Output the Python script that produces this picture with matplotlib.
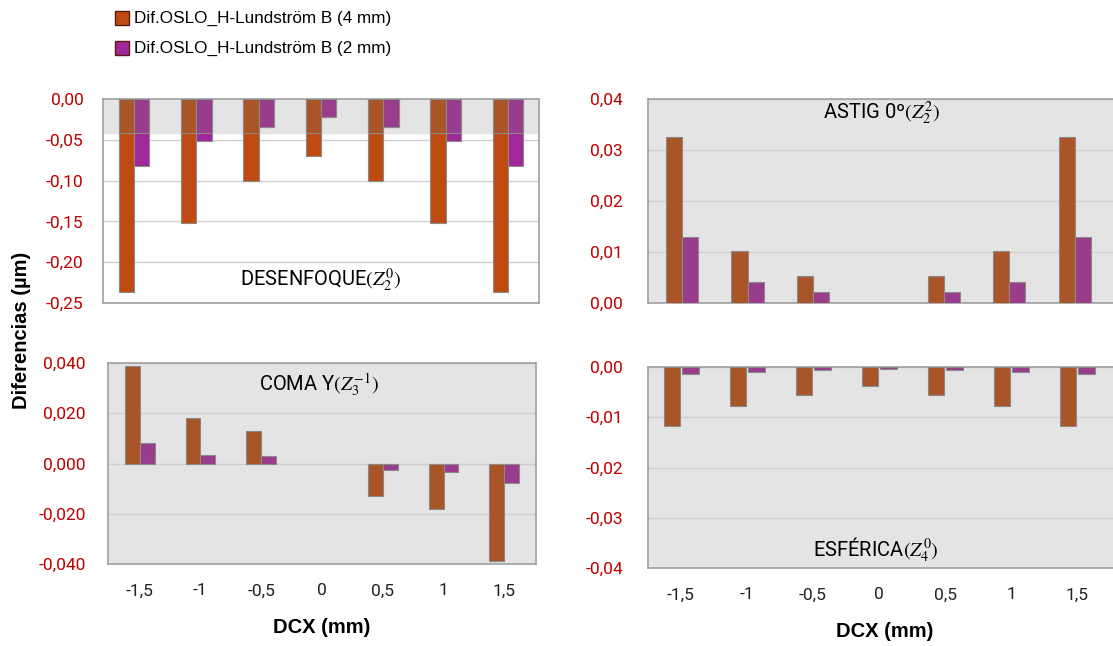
import numpy as np
import matplotlib.pyplot as plt
from matplotlib.ticker import FuncFormatter

plt.rcParams['font.family'] = ['Roboto', 'DejaVu Sans']
plt.rcParams['mathtext.fontset'] = 'stix'

dcx = ['-1,5', '-1', '-0,5', '0', '0,5', '1', '1,5']
series = ['Dif.OSLO_H-Lundström B (4 mm)', 'Dif.OSLO_H-Lundström B (2 mm)']

desenfoque_4 = [-0.236, -0.152, -0.101, -0.070, -0.101, -0.152, -0.236]
desenfoque_2 = [-0.082, -0.052, -0.034, -0.022, -0.034, -0.052, -0.082]
astig_4 = [0.0325, 0.0102, 0.0053, 0.0, 0.0053, 0.0102, 0.0325]
astig_2 = [0.0129, 0.0041, 0.0021, 0.0, 0.0021, 0.0041, 0.0129]
coma_4 = [0.039, 0.018, 0.013, 0.0, -0.013, -0.018, -0.039]
coma_2 = [0.008, 0.0035, 0.0028, 0.0, -0.0025, -0.0035, -0.0077]
esf_4 = [-0.0117, -0.0078, -0.0055, -0.0038, -0.0055, -0.0078, -0.0117]
esf_2 = [-0.0013, -0.0009, -0.0006, -0.0004, -0.0006, -0.0009, -0.0013]

orange, purple = '#C04B12', '#A0289A'
orange_m, purple_m = '#AA5528', '#9A3C8C'
red = '#C00000'
bg = '#E4E4E4'
W = 1113
H = 646

fig = plt.figure(figsize=(W / 100, H / 100), dpi=100)


def add_ax(l, r, t, b):
    return fig.add_axes([l / W, 1 - b / H, (r - l) / W, (b - t) / H])


def fmt_tick(fmt):
    def f(v, p):
        if abs(v) < 1e-9:
            v = 0.0
        return (fmt % v).replace('.', ',')
    return FuncFormatter(f)


def style(ax, ylim, step, fmt, xlim, facecolor, pad, xticks=False):
    ax.set_facecolor(facecolor)
    ax.set_ylim(*ylim)
    ax.set_xlim(*xlim)
    ax.set_yticks(np.arange(ylim[0], ylim[1] + step / 2, step))
    ax.yaxis.set_major_formatter(fmt_tick(fmt))
    ax.tick_params(axis='y', colors=red, labelsize=12.5, length=0, pad=pad)
    ax.grid(axis='y', color='#CFCFCF', lw=1)
    ax.set_axisbelow(True)
    for s in ax.spines.values():
        s.set_color('#A0A0A0')
        s.set_linewidth(1.2)
    ax.set_xticks(range(len(dcx)))
    if xticks:
        ax.set_xticklabels(dcx, fontsize=12.5, color='#222222')
        ax.tick_params(axis='x', length=0, pad=14)
        ax.set_xlabel('DCX (mm)', fontsize=14.5, fontweight='bold', family=['Liberation Sans'], labelpad=14)
    else:
        ax.set_xticklabels([])
        ax.tick_params(axis='x', length=0)


def bars(ax, a, b, ca, cb, gap=0.0):
    x = np.arange(len(dcx))
    w = 0.245
    a = np.asarray(a, float)
    b = np.asarray(b, float)
    lwa = np.where(a == 0, 0, 0.8)
    lwb = np.where(b == 0, 0, 0.8)
    ax.bar(x - w / 2 - gap / 2, a, w, color=ca, edgecolor='#8A8A8A', linewidth=lwa, zorder=3)
    ax.bar(x + w / 2 + gap / 2, b, w, color=cb, edgecolor='#8A8A8A', linewidth=lwb, zorder=3)


# top left: desenfoque
ax1 = add_ax(103, 539, 99, 303)
style(ax1, (-0.25, 0.0), 0.05, '%.2f', (-0.5, 6.5), 'white', pad=14)
band = -0.042
ax1.axhspan(band, 0, color=bg, zorder=1)
bars(ax1, desenfoque_4, desenfoque_2, orange, purple)
bars(ax1, np.maximum(desenfoque_4, band), np.maximum(desenfoque_2, band), orange_m, purple_m)
ax1.text(3, -0.222, r'DESENFOQUE$(Z_2^0)$', ha='center', va='center', fontsize=14.5, zorder=5)

# top right: astig
ax2 = add_ax(648, 1122, 99, 303)
style(ax2, (0.0, 0.04), 0.01, '%.2f', (-0.52, 6.72), bg, pad=18)
bars(ax2, astig_4, astig_2, orange_m, purple_m)
ax2.text(3.05, 0.0373, r'ASTIG 0º$(Z_2^2)$', ha='center', va='center', fontsize=14.5, zorder=5)

# bottom left: coma
ax3 = add_ax(108, 536, 363, 564)
style(ax3, (-0.04, 0.04), 0.02, '%.3f', (-0.52, 6.52), bg, pad=16)
bars(ax3, coma_4, coma_2, orange_m, purple_m)
ax3.text(2.95, 0.031, r'COMA Y$(Z_3^{-1})$', ha='center', va='center', fontsize=14.5, zorder=5)
ax3.set_xticklabels(dcx, fontsize=12.5, color='#222222')
ax3.tick_params(axis='x', length=0, pad=14)
ax3.set_xlabel('DCX (mm)', fontsize=14.5, fontweight='bold', family=['Liberation Sans'], labelpad=14)

# bottom right: esferica
ax4 = add_ax(648, 1122, 367, 568)
style(ax4, (-0.04, 0.0), 0.01, '%.2f', (-0.5, 6.68), bg, pad=18, xticks=True)
bars(ax4, esf_4, esf_2, orange_m, purple_m, gap=0.04)
ax4.text(2.95, -0.0363, r'ESFÉRICA$(Z_4^0)$', ha='center', va='center', fontsize=14.5, zorder=5)

fig.text(22 / W, 1 - 330 / H, 'Diferencias (µm)', rotation=90, ha='center', va='center',
         fontsize=14.5, fontweight='bold', family=['Liberation Sans'])

# legend
for i, (lab, c) in enumerate(zip(series, [orange, purple])):
    y = 1 - (18 + 30 * i) / H
    fig.patches.append(plt.Rectangle((115 / W, y - 7 / H), 14 / W, 14 / H, transform=fig.transFigure,
                                     facecolor=c, edgecolor='#5A1A10', lw=1))
    fig.text(134 / W, y, lab, ha='left', va='center', fontsize=12.3, family=['Liberation Sans'])

fig.savefig('out.png', dpi=100)
